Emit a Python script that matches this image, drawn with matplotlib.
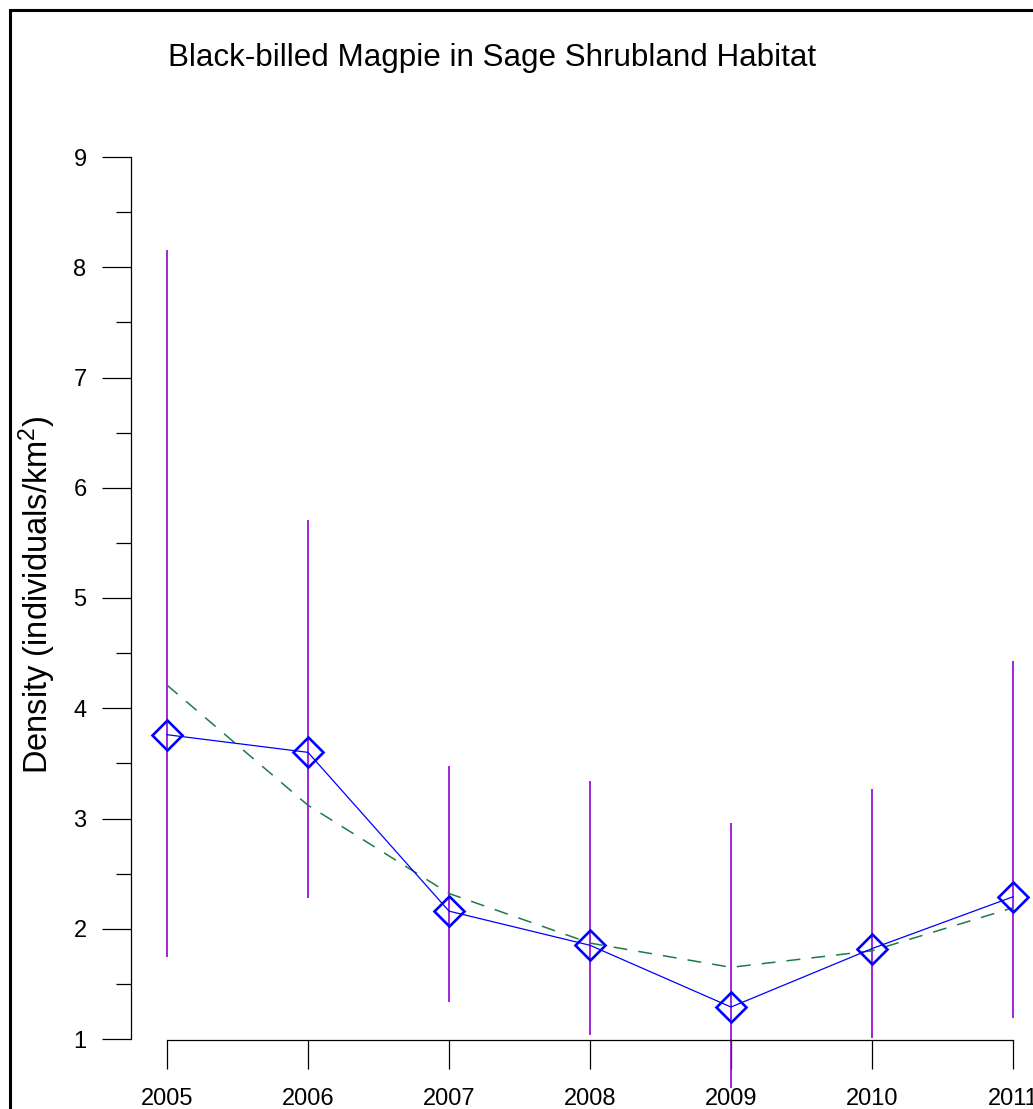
import matplotlib
matplotlib.use("Agg")
import matplotlib.pyplot as plt
from matplotlib.patches import Rectangle
from matplotlib.ticker import MultipleLocator

plt.rcParams['font.family'] = ['Liberation Sans', 'DejaVu Sans']
plt.rcParams['mathtext.fontset'] = 'custom'
plt.rcParams['mathtext.rm'] = 'Liberation Sans'
plt.rcParams['mathtext.default'] = 'regular'
plt.rcParams['lines.scale_dashes'] = False

years = [2005, 2006, 2007, 2008, 2009, 2010, 2011]
density = [3.76, 3.60, 2.16, 1.85, 1.29, 1.82, 2.29]
ci_lower = [1.74, 2.28, 1.34, 1.04, 0.56, 1.01, 1.19]
ci_upper = [8.16, 5.71, 3.48, 3.34, 2.96, 3.27, 4.43]
trend = [4.21, 3.12, 2.32, 1.87, 1.65, 1.80, 2.19]
year_labels = ['2005', '2006', '2007', '2008', '2009', '2010', '2011']
y_ticks = [1, 2, 3, 4, 5, 6, 7, 8, 9]

W, H = 1033, 1109
fig = plt.figure(figsize=(W / 100, H / 100), dpi=100)

# outer frame (cropped on right and bottom)
fig.patches.append(Rectangle((9.5 / W, -0.1), 1.2, 1.1 - 9.5 / H,
                             transform=fig.transFigure, fill=False,
                             edgecolor='black', linewidth=2.2, clip_on=False))

left_px, right_px = 131, 1033
bottom_px, top_px = 1039, 157
ax = fig.add_axes([left_px / W, (H - bottom_px) / H,
                   (right_px - left_px) / W, (bottom_px - top_px) / H])
ax.patch.set_visible(False)

x0 = 2005 - (167 - left_px) / 141.0
x1 = 2005 + (right_px - 167) / 141.0
ax.set_xlim(x0, x1)
ax.set_ylim(1, 9)

# error bars
ax.vlines(years, ci_lower, ci_upper, colors='#9400D3', linewidth=1.2,
          clip_on=False, zorder=2)
# trend
ax.plot(years, trend, color='#1E7A48', linewidth=1.1, dashes=(10, 8),
        clip_on=False, zorder=3)
# density
ax.plot(years, density, color='#0000FF', linewidth=0.9, marker='D',
        markersize=15.5, markerfacecolor='none', markeredgecolor='#0000FF',
        markeredgewidth=1.9, clip_on=False, zorder=4)

for s in ['top', 'right']:
    ax.spines[s].set_visible(False)
ax.spines['left'].set_bounds(1, 9)
ax.spines['left'].set_linewidth(0.9)
ax.spines['bottom'].set_bounds(2005, 2011)
ax.spines['bottom'].set_position(('outward', 1))
ax.spines['bottom'].set_linewidth(0.9)

ax.set_xticks(years)
ax.set_xticklabels(year_labels)
ax.set_yticks(y_ticks)
ax.set_yticklabels([str(v) for v in y_ticks])
ax.yaxis.set_minor_locator(MultipleLocator(0.5))

ax.tick_params(axis='x', which='major', direction='out', length=21, width=0.9,
               labelsize=17, pad=13)
ax.tick_params(axis='y', which='major', direction='out', length=21, width=0.9,
               labelsize=17, pad=11)
ax.tick_params(axis='y', which='minor', direction='out', length=10.5, width=0.9)

fig.text(37 / W, 1 - 595 / H, 'Density (individuals/km$^{2}$)', rotation=90,
         ha='center', va='center', fontsize=23.5)
fig.text(492 / W, 1 - 66 / H, 'Black-billed Magpie in Sage Shrubland Habitat',
         ha='center', va='baseline', fontsize=22.6)

fig.savefig('out.png', dpi=100)
